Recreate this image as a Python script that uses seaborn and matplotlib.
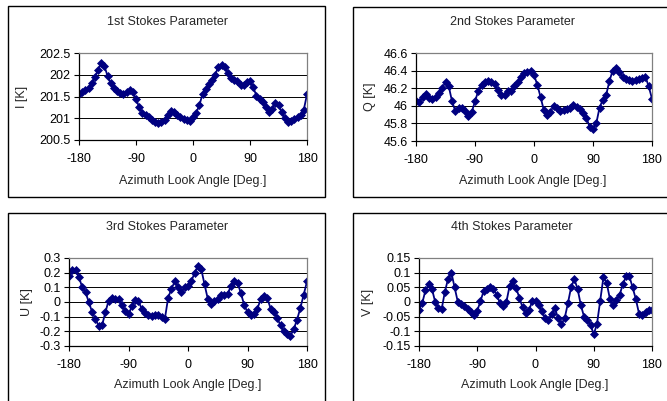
import numpy as np
import pandas as pd
import matplotlib
matplotlib.use("Agg")
import matplotlib.pyplot as plt
from matplotlib.patches import Rectangle
import seaborn as sns

# ---------------- data ----------------
azimuth = list(range(-180, 181, 5))

stokes_I = [201.55, 201.6, 201.65, 201.7, 201.8, 201.95, 202.1, 202.28, 202.2, 201.98,
            201.8, 201.7, 201.63, 201.57, 201.55, 201.6, 201.66, 201.6, 201.45, 201.25,
            201.12, 201.07, 201.03, 200.97, 200.91, 200.9, 200.91, 200.97, 201.07, 201.16,
            201.14, 201.08, 201.02, 200.98, 200.96, 200.94, 201.02, 201.12, 201.3, 201.55,
            201.68, 201.78, 201.88, 202.0, 202.18, 202.22, 202.18, 202.05, 201.93, 201.88,
            201.85, 201.77, 201.77, 201.83, 201.85, 201.72, 201.52, 201.45, 201.38, 201.25,
            201.15, 201.22, 201.36, 201.3, 201.15, 201.0, 200.92, 200.93, 200.98, 201.03,
            201.08, 201.2, 201.55]

stokes_Q = [46.06, 46.04, 46.1, 46.13, 46.09, 46.08, 46.1, 46.14, 46.2, 46.27,
            46.22, 46.05, 45.94, 45.97, 45.97, 45.94, 45.88, 45.93, 46.05, 46.17,
            46.24, 46.27, 46.28, 46.27, 46.25, 46.18, 46.12, 46.12, 46.17, 46.17,
            46.22, 46.27, 46.33, 46.37, 46.38, 46.39, 46.35, 46.24, 46.1, 45.95,
            45.9, 45.93, 46.0, 45.98, 45.94, 45.95, 45.96, 45.97, 46.01, 45.99,
            45.96, 45.92, 45.86, 45.76, 45.74, 45.8, 45.98, 46.07, 46.12, 46.28,
            46.4, 46.43, 46.38, 46.33, 46.31, 46.29, 46.28, 46.29, 46.3, 46.32,
            46.33, 46.22, 46.08]

stokes_U = [0.175, 0.215, 0.215, 0.17, 0.1, 0.065, 0.0, -0.07, -0.115, -0.165,
            -0.16, -0.07, 0.01, 0.03, 0.02, 0.02, -0.02, -0.06, -0.085, -0.03,
            0.015, 0.005, -0.045, -0.075, -0.09, -0.095, -0.09, -0.09, -0.1, -0.115,
            0.03, 0.09, 0.14, 0.105, 0.07, 0.1, 0.11, 0.14, 0.2, 0.245,
            0.225, 0.12, 0.02, -0.015, 0.005, 0.02, 0.045, 0.045, 0.055, 0.11,
            0.145, 0.13, 0.06, -0.02, -0.07, -0.09, -0.08, -0.045, 0.02, 0.04,
            0.025, -0.045, -0.065, -0.11, -0.16, -0.2, -0.22, -0.23, -0.185, -0.12,
            -0.04, 0.05, 0.14]

stokes_V = [-0.026, -0.004, 0.04, 0.06, 0.045, 0.0, -0.02, -0.024, 0.035, 0.08,
            0.1, 0.05, 0.0, -0.006, -0.012, -0.025, -0.035, -0.043, -0.03, 0.003,
            0.038, 0.046, 0.052, 0.045, 0.024, -0.002, -0.015, 0.0, 0.055, 0.072,
            0.048, 0.015, -0.018, -0.037, -0.028, 0.003, 0.005, -0.01, -0.032, -0.055,
            -0.06, -0.04, -0.022, -0.055, -0.075, -0.056, -0.005, 0.05, 0.078, 0.045,
            -0.01, -0.05, -0.062, -0.078, -0.11, -0.075, 0.005, 0.085, 0.065, 0.01,
            -0.01, 0.007, 0.025, 0.06, 0.088, 0.088, 0.05, 0.01, -0.04, -0.044,
            -0.034, -0.027, -0.026]

titles = ["1st Stokes Parameter", "2nd Stokes Parameter",
          "3rd Stokes Parameter", "4th Stokes Parameter"]
ylabels = ["I [K]", "Q [K]", "U [K]", "V [K]"]
x_ticks = [-180, -90, 0, 90, 180]
y_ticks = [[200.5, 201, 201.5, 202, 202.5],
           [45.6, 45.8, 46, 46.2, 46.4, 46.6],
           [-0.3, -0.2, -0.1, 0, 0.1, 0.2, 0.3],
           [-0.15, -0.1, -0.05, 0, 0.05, 0.1, 0.15]]
y_ticklabels = [["200.5", "201", "201.5", "202", "202.5"],
                ["45.6", "45.8", "46", "46.2", "46.4", "46.6"],
                ["-0.3", "-0.2", "-0.1", "0", "0.1", "0.2", "0.3"],
                ["-0.15", "-0.1", "-0.05", "0", "0.05", "0.1", "0.15"]]
series = [stokes_I, stokes_Q, stokes_U, stokes_V]

# ---------------- style ----------------
sns.set_style("white")
plt.rcParams["font.family"] = ["Liberation Sans", "DejaVu Sans"]
FS = 9.0
NAVY = "#000080"

W, H = 667, 401
fig = plt.figure(figsize=(W / 100, H / 100), dpi=100)


def frac_rect(l, t, r, b):
    return [l / W, 1 - b / H, (r - l) / W, (b - t) / H]


# chart frames (pixel boxes)
frames = [(8, 6, 325, 197), (353, 7, 700, 197), (8, 213, 325, 430), (353, 213, 700, 430)]
for (l, t, r, b) in frames:
    fig.patches.append(Rectangle((l / W, 1 - b / H), (r - l) / W, (b - t) / H,
                                 transform=fig.transFigure, fill=False,
                                 edgecolor="black", linewidth=1.0))

# plot areas and label positions (axes coords)
areas = [(79, 53, 307, 140), (416, 53, 652, 141), (69, 258, 307, 346), (419, 258, 652, 346)]
title_pos = [(0.390, 1.356), (0.407, 1.352), (0.412, 1.352), (0.399, 1.352)]
xlabel_pos = [(0.5, -0.471), (0.496, -0.455), (0.5, -0.443), (0.498, -0.443)]
ylabel_pos = [(-0.25, 0.5), (-0.195, 0.5), (-0.176, 0.5), (-0.219, 0.5)]

for i in range(4):
    ax = fig.add_axes(frac_rect(*areas[i]))
    df = pd.DataFrame({"Azimuth": azimuth, "val": series[i]})
    sns.lineplot(data=df, x="Azimuth", y="val", ax=ax, color=NAVY, linewidth=1.3,
                 marker="D", markersize=3.6, markeredgecolor=NAVY, markerfacecolor=NAVY,
                 markeredgewidth=0.5)
    ax.set_xlim(-180, 180)
    yt = y_ticks[i]
    ax.set_ylim(yt[0], yt[-1])
    ax.set_xticks(x_ticks)
    ax.set_xticklabels([str(v) for v in x_ticks], fontsize=FS)
    ax.set_yticks(yt)
    ax.set_yticklabels(y_ticklabels[i], fontsize=FS)
    for v in yt[1:-1]:
        ax.axhline(v, color="black", linewidth=0.7, zorder=0)
    ax.tick_params(axis="both", direction="out", length=3.5, width=0.8, color="black",
                   labelcolor="black", bottom=True, left=True)
    ax.tick_params(axis="x", pad=6)
    ax.tick_params(axis="y", pad=2.5)
    for s in ["left", "bottom"]:
        ax.spines[s].set_color("black")
        ax.spines[s].set_linewidth(0.9)
    for s in ["top", "right"]:
        ax.spines[s].set_color("#808080")
        ax.spines[s].set_linewidth(0.9)
    ax.set_title(titles[i], fontsize=FS, x=title_pos[i][0], y=title_pos[i][1],
                 va="center", pad=0)
    ax.set_xlabel("Azimuth Look Angle [Deg.]", fontsize=FS)
    ax.xaxis.set_label_coords(*xlabel_pos[i])
    ax.xaxis.label.set_va("center")
    ax.set_ylabel(ylabels[i], fontsize=FS)
    ax.yaxis.set_label_coords(*ylabel_pos[i])
    ax.yaxis.label.set_va("center")
    ax.set_facecolor("white")

fig.savefig("out.png", dpi=100, facecolor="white")
